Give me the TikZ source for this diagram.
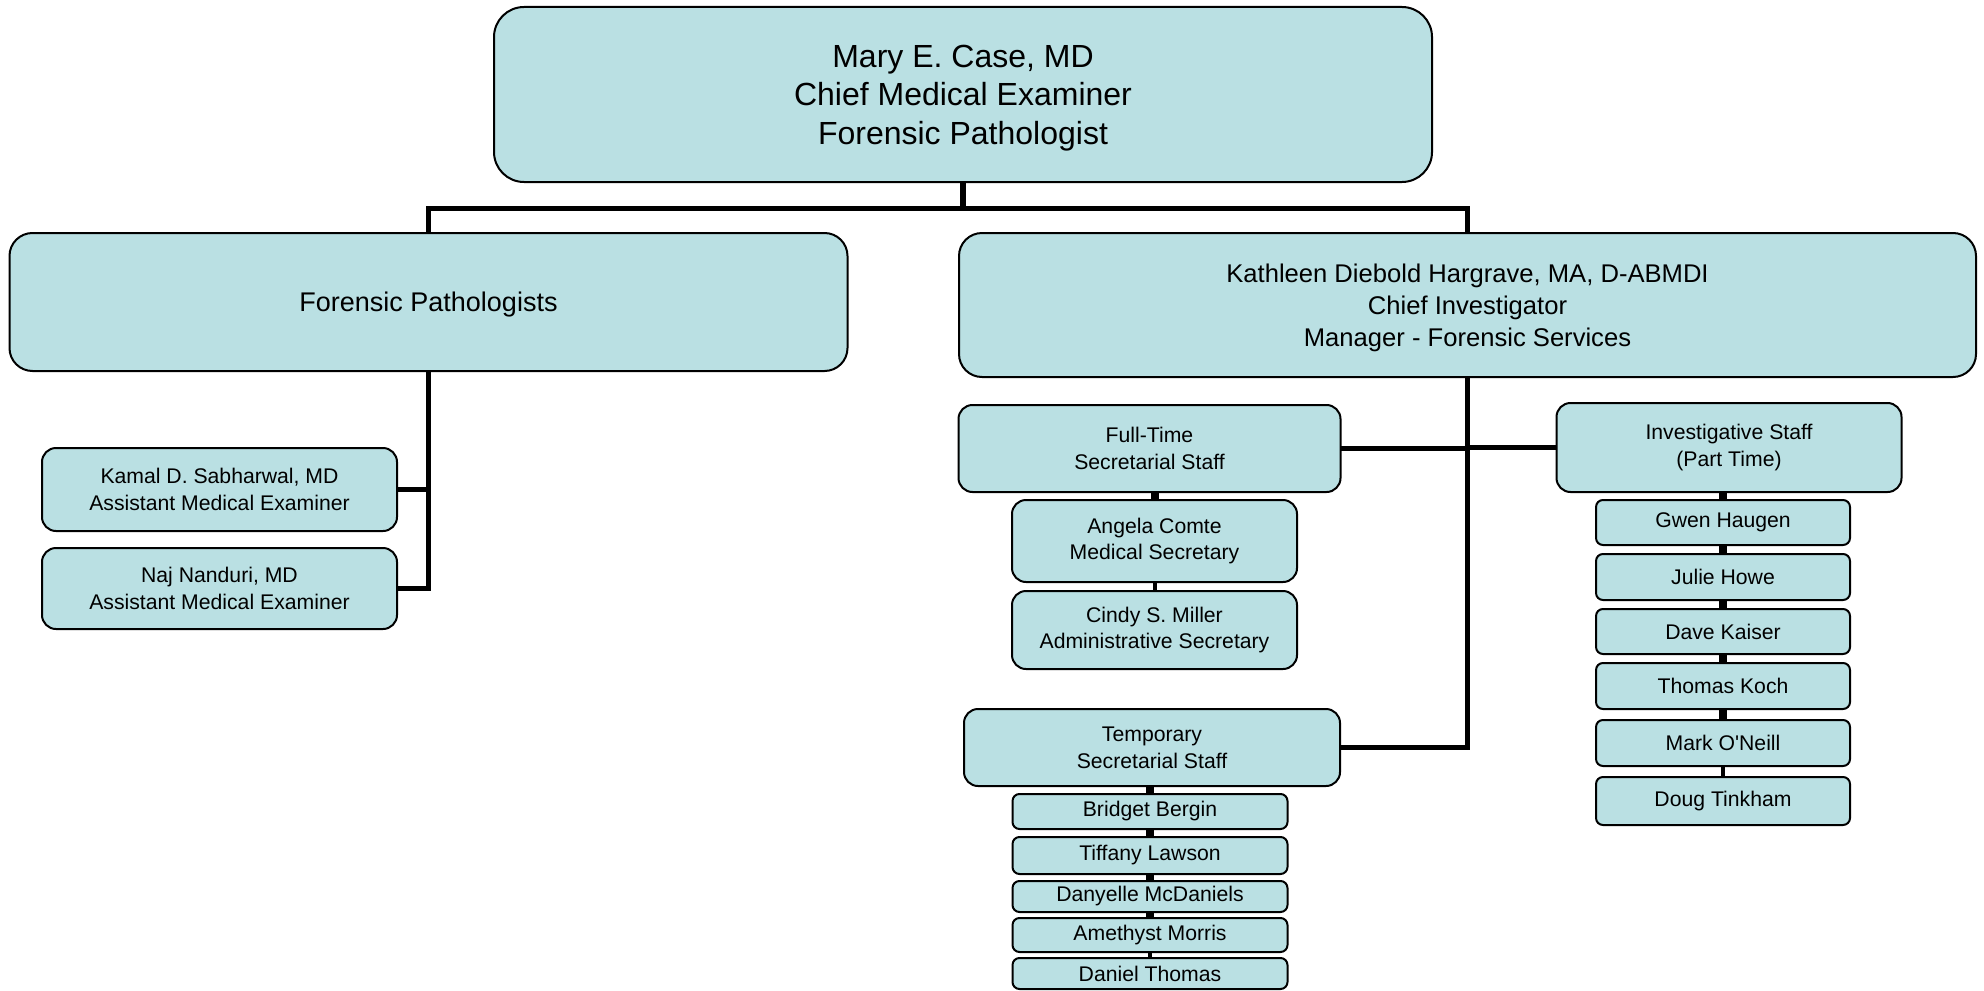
\documentclass[tikz,border=0pt]{standalone}
\usepackage{fontspec}
\setmainfont{Liberation Sans}
\usetikzlibrary{positioning}
\definecolor{boxfill}{HTML}{BAE0E3}
\tikzset{
    unit/.style={draw=black, line width=1pt, fill=boxfill, align=center, inner sep=0pt, outer sep=0pt},
    bigbox/.style={unit, rounded corners=15pt, text depth=0pt, font=\fontsize{16}{19.25}\selectfont},
    midbox/.style={unit, rounded corners=11.5pt, text depth=0pt, font=\fontsize{13.5}{16}\selectfont},
    smallbox/.style={unit, rounded corners=7pt, font=\fontsize{10.6}{13.3}\selectfont},
    namebox/.style={unit, rounded corners=3.5pt, font=\fontsize{10.6}{13.3}\selectfont},
    link/.style={line width=2.75pt},
    drop/.style={to path={(\tikztostart.south) -- ++(0,-26.5) -| (\tikztotarget.north)}},
    lside/.style={to path={(\tikztostart.south) |- (\tikztotarget.east)}},
    rside/.style={to path={(\tikztostart.south) |- (\tikztotarget.west)}},
    stack/.style={line width=4pt, to path={(\tikztostart.south -| \tikztotarget.north) -- (\tikztotarget.north)}},
    thinstack/.style={stack, line width=2pt}
}
\begin{document}
\begin{tikzpicture}[x=0.5pt, y=0.5pt]
            \useasboundingbox (0,0) rectangle (1984,-990);

            \node (1) [bigbox, minimum width=469pt, minimum height=87.5pt] at (963,-94.5) {Mary E. Case, MD\\Chief Medical Examiner\\Forensic Pathologist};
            \node (2) [midbox, minimum width=419pt, minimum height=69pt] at (428.5,-302) {Forensic Pathologists};
            \node (3) [midbox, minimum width=508.5pt, minimum height=72pt, font=\fontsize{12.8}{16}\selectfont] at (1467.5,-305) {Kathleen Diebold Hargrave, MA, D-ABMDI\\Chief Investigator\\Manager - Forensic Services};
            \node (4) [smallbox, minimum width=177.5pt, minimum height=41.5pt] at (219.5,-489.5) {Kamal D. Sabharwal, MD\\Assistant Medical Examiner};
            \node (5) [smallbox, minimum width=177.5pt, minimum height=40.5pt, below=8.5pt of 4] {Naj Nanduri, MD\\Assistant Medical Examiner};
            \node (6) [smallbox, minimum width=191pt, minimum height=43.5pt] at (1149.5,-448.5) {Full-Time\\Secretarial Staff};
            \node (7) [smallbox, minimum width=142.5pt, minimum height=41pt, below=4pt of 6, xshift=2.5pt] {Angela Comte\\Medical Secretary};
            \node (8) [smallbox, minimum width=142.5pt, minimum height=39pt, below=4.5pt of 7] {Cindy S. Miller\\Administrative Secretary};
            \node (9) [smallbox, minimum width=172.5pt, minimum height=44.5pt] at (1729,-447.5) {Investigative Staff\\(Part Time)};
            \node (10) [namebox, minimum width=127pt, minimum height=22.5pt, below=4pt of 9, xshift=-3pt] {Gwen Haugen};
            \node (11) [namebox, minimum width=127pt, minimum height=23pt, below=4.5pt of 10] {Julie Howe};
            \node (12) [namebox, minimum width=127pt, minimum height=22.5pt, below=4.5pt of 11] {Dave Kaiser};
            \node (13) [namebox, minimum width=127pt, minimum height=23pt, below=4.5pt of 12] {Thomas Koch};
            \node (14) [namebox, minimum width=127pt, minimum height=23pt, below=5.5pt of 13] {Mark O\textquotesingle Neill};
            \node (15) [namebox, minimum width=127pt, minimum height=24pt, below=5.5pt of 14] {Doug Tinkham};
            \node (16) [smallbox, minimum width=188pt, minimum height=38.5pt] at (1152,-747.5) {Temporary\\Secretarial Staff};
            \node (17) [namebox, minimum width=137.5pt, minimum height=17.5pt, below=4pt of 16, xshift=-1pt] {Bridget Bergin};
            \node (18) [namebox, minimum width=137.5pt, minimum height=18.5pt, below=4pt of 17] {Tiffany Lawson};
            \node (19) [namebox, minimum width=137.5pt, minimum height=15.5pt, below=3.5pt of 18] {Danyelle McDaniels};
            \node (20) [namebox, minimum width=137.5pt, minimum height=17pt, below=3pt of 19] {Amethyst Morris};
            \node (21) [namebox, minimum width=137.5pt, minimum height=15.5pt, below=3pt of 20] {Daniel Thomas};

            \path[link]
            (1) edge[drop] (2)
            (1) edge[drop] (3)
            (2) edge[lside] (4)
            (2) edge[lside] (5)
            (3) edge[lside] (6)
            (3) edge[rside] (9)
            (3) edge[lside] (16)
            (6) edge[stack] (7)
            (7) edge[thinstack] (8)
            (9) edge[stack] (10)
            (10) edge[stack] (11)
            (11) edge[stack] (12)
            (12) edge[stack] (13)
            (13) edge[stack] (14)
            (14) edge[thinstack] (15)
            (16) edge[stack] (17)
            (17) edge[stack] (18)
            (18) edge[stack] (19)
            (19) edge[stack] (20)
            (20) edge[thinstack] (21);

        \end{tikzpicture}
\end{document}
